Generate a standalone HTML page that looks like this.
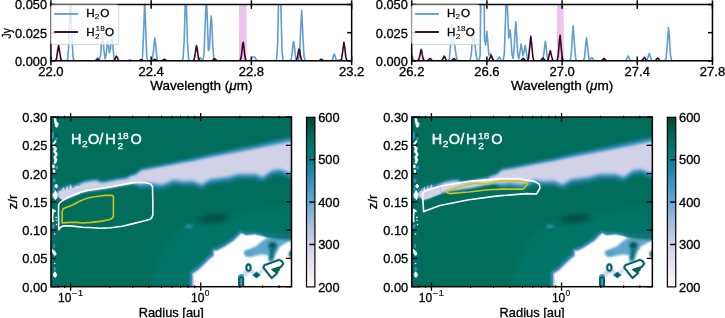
<!DOCTYPE html>
<html><head><meta charset="utf-8"><style>
html,body{margin:0;padding:0;background:#fff;width:725px;height:318px;overflow:hidden}
svg{display:block;will-change:transform}
text{font-family:"Liberation Sans", sans-serif;stroke-width:0.3px;paint-order:stroke}
text[fill="#000"],text:not([fill]){stroke:#000}
text[fill="#fff"]{stroke:#fff;stroke-width:0.4px}
text.sm[fill="#fff"]{stroke-width:0.25px}
text.sm{stroke-width:0.12px}
</style></head><body>
<svg width="725" height="318" viewBox="0 0 725 318">
<rect width="725" height="318" fill="#fff"/>
<clipPath id="clipA0"><rect x="50.9" y="4.5" width="300.75" height="56.3"/></clipPath>
<rect x="239.0" y="4.5" width="7.699999999999989" height="56.3" fill="rgb(238,196,238)"/>
<g clip-path="url(#clipA0)" fill="none" stroke-linejoin="round">
<path d="M48.90,60.80 L65.40,60.80 L66.50,60.76 L67.60,59.43 L68.70,46.54 L69.80,11.15 L70.50,-1.20 L72.00,38.45 L73.10,57.91 L74.20,60.68 L75.30,60.80 L94.00,60.80 L95.10,60.71 L96.20,59.99 L97.30,58.25 L97.90,57.80 L98.40,58.11 L99.50,59.40 L100.60,55.38 L101.70,40.37 L102.50,33.50 L103.90,49.56 L105.00,58.64 L106.10,55.49 L107.20,44.32 L107.80,41.38 L108.30,43.38 L109.40,52.87 L110.50,48.33 L111.80,35.49 L112.70,43.28 L113.80,56.68 L114.90,60.48 L116.00,60.79 L127.00,60.78 L128.10,60.61 L129.20,60.05 L130.00,59.80 L131.40,60.39 L132.50,60.74 L133.60,60.80 L140.20,60.80 L141.30,60.75 L142.40,58.51 L143.50,36.13 L144.70,0.80 L145.70,28.44 L146.80,56.86 L147.90,60.69 L149.00,60.80 L150.10,60.80 L151.20,60.74 L152.30,59.47 L153.40,51.47 L154.80,38.10 L155.60,43.82 L156.70,56.38 L157.80,60.42 L158.90,60.79 L180.90,60.80 L182.00,60.71 L183.10,58.38 L184.20,40.13 L185.30,1.87 L185.80,-5.20 L186.40,4.74 L187.50,43.00 L188.60,58.91 L189.70,60.73 L190.80,60.80 L196.30,60.80 L197.40,60.69 L198.50,59.83 L199.60,58.03 L200.10,57.70 L200.70,58.17 L201.80,59.96 L202.90,60.36 L204.00,54.80 L205.10,26.45 L206.30,-5.20 L207.30,18.82 L208.40,50.59 L209.50,48.09 L210.60,22.73 L211.20,16.00 L211.70,20.80 L212.80,46.77 L213.90,59.16 L215.00,60.74 L216.10,60.80 L248.00,60.80 L249.10,60.77 L250.20,60.33 L251.30,58.55 L252.30,56.98 L253.50,56.96 L254.60,56.98 L255.70,58.76 L256.80,60.41 L257.90,60.77 L259.00,60.80 L274.40,60.80 L275.50,60.76 L276.60,59.42 L277.70,43.20 L278.80,-14.00 L279.70,-47.20 L281.00,10.62 L282.10,52.88 L283.20,60.38 L284.30,60.79 L288.70,60.80 L289.80,60.77 L290.90,60.09 L292.00,54.76 L293.10,43.57 L293.60,41.50 L294.20,44.41 L295.30,55.60 L296.40,60.25 L297.50,60.76 L298.60,60.15 L299.70,52.59 L300.80,25.89 L301.70,10.40 L303.00,37.38 L304.10,57.10 L305.20,60.61 L306.30,60.80 L330.50,60.79 L331.60,60.56 L332.70,58.73 L333.80,54.91 L334.30,54.20 L334.90,55.19 L336.00,59.01 L337.10,60.50 L338.20,60.22 L339.30,59.80 L340.40,60.22 L341.50,60.69 L342.60,60.79 L353.60,60.80" stroke="rgb(95,158,210)" stroke-width="1.6"/>
<path d="M48.90,60.80 L54.40,60.79 L55.50,60.60 L56.60,58.31 L57.70,50.20 L58.60,45.50 L59.90,53.69 L61.00,59.68 L62.10,60.74 L63.20,60.80 L94.00,60.79 L95.10,60.69 L96.20,60.10 L97.50,59.30 L98.40,59.76 L99.50,60.56 L100.60,60.78 L112.70,60.79 L113.80,60.59 L114.90,59.14 L116.40,56.20 L117.10,57.12 L118.20,59.74 L119.30,60.70 L120.40,60.80 L138.00,60.78 L139.10,60.60 L140.20,59.97 L141.10,59.60 L142.40,60.24 L143.50,60.71 L144.60,60.80 L151.20,60.80 L152.30,60.71 L153.40,60.18 L154.80,59.30 L155.60,59.68 L156.70,60.51 L157.80,60.77 L158.90,60.80 L161.10,60.79 L162.20,60.60 L163.30,59.85 L164.30,59.30 L165.50,60.02 L166.60,60.66 L167.70,60.79 L191.90,60.80 L193.00,60.74 L194.10,59.68 L195.20,53.74 L196.50,45.60 L197.40,50.27 L198.50,58.32 L199.60,60.61 L200.70,60.79 L210.60,60.80 L211.70,60.75 L212.80,60.32 L213.90,59.12 L214.60,58.70 L216.10,60.04 L217.20,60.70 L218.30,60.80 L239.20,60.78 L240.30,60.27 L241.40,55.81 L242.50,45.09 L243.10,42.30 L243.60,44.28 L244.70,55.01 L245.80,60.12 L246.90,60.77 L248.00,60.80 L295.30,60.78 L296.40,60.37 L297.50,57.10 L298.60,50.26 L299.10,49.00 L299.70,50.78 L300.80,57.62 L301.90,60.46 L303.00,60.79 L317.30,60.80 L318.40,60.76 L319.50,60.40 L320.60,59.53 L321.20,59.30 L321.70,59.46 L322.80,60.33 L323.90,60.75 L325.00,60.80 L339.30,60.80 L340.40,60.73 L341.50,59.44 L342.60,52.16 L343.90,42.20 L344.80,47.92 L345.90,57.77 L347.00,60.56 L348.10,60.79 L353.60,60.80" stroke="rgb(58,4,44)" stroke-width="1.6"/>
</g>
<rect x="50.9" y="4.5" width="300.75" height="56.3" fill="none" stroke="#000" stroke-width="1.5"/>
<line x1="50.9" y1="0.2999999999999998" x2="50.9" y2="8.8" stroke="#000" stroke-width="1.5"/>
<line x1="50.9" y1="56.599999999999994" x2="50.9" y2="65.2" stroke="#000" stroke-width="1.5"/>
<line x1="151.15" y1="0.2999999999999998" x2="151.15" y2="8.8" stroke="#000" stroke-width="1.5"/>
<line x1="151.15" y1="56.599999999999994" x2="151.15" y2="65.2" stroke="#000" stroke-width="1.5"/>
<line x1="251.4" y1="0.2999999999999998" x2="251.4" y2="8.8" stroke="#000" stroke-width="1.5"/>
<line x1="251.4" y1="56.599999999999994" x2="251.4" y2="65.2" stroke="#000" stroke-width="1.5"/>
<line x1="351.65000000000003" y1="0.2999999999999998" x2="351.65000000000003" y2="8.8" stroke="#000" stroke-width="1.5"/>
<line x1="351.65000000000003" y1="56.599999999999994" x2="351.65000000000003" y2="65.2" stroke="#000" stroke-width="1.5"/>
<line x1="50.9" y1="4.5" x2="55.4" y2="4.5" stroke="#000" stroke-width="1.5"/>
<line x1="347.15" y1="4.5" x2="351.65" y2="4.5" stroke="#000" stroke-width="1.5"/>
<line x1="50.9" y1="32.65" x2="55.4" y2="32.65" stroke="#000" stroke-width="1.5"/>
<line x1="347.15" y1="32.65" x2="351.65" y2="32.65" stroke="#000" stroke-width="1.5"/>
<line x1="50.9" y1="60.8" x2="55.4" y2="60.8" stroke="#000" stroke-width="1.5"/>
<line x1="347.15" y1="60.8" x2="351.65" y2="60.8" stroke="#000" stroke-width="1.5"/>
<rect x="50.9" y="4.9" width="67.9" height="39.5" rx="2" fill="rgba(255,255,255,0.8)" stroke="rgba(204,204,204,0.8)" stroke-width="1"/>
<line x1="54.3" y1="13.9" x2="78.1" y2="13.9" stroke="rgb(95,158,210)" stroke-width="1.9"/>
<line x1="54.3" y1="32" x2="78.1" y2="32" stroke="rgb(58,4,44)" stroke-width="1.9"/>
<text transform="translate(86.24,16.75) scale(1.07,1)" font-size="10.9" fill="#000">H</text>
<text class="sm" transform="translate(94.69,18.75) scale(1.05,1)" font-size="7.8" fill="#000">2</text>
<text transform="translate(100.25,16.75) scale(1.07,1)" font-size="10.9" fill="#000">O</text>
<text transform="translate(86.24,35.55) scale(1.07,1)" font-size="10.9" fill="#000">H</text>
<text class="sm" transform="translate(95.59,31.20) scale(1.05,1)" font-size="7.8" fill="#000">18</text>
<text class="sm" transform="translate(94.89,38.60) scale(1.05,1)" font-size="7.8" fill="#000">2</text>
<text transform="translate(104.95,35.55) scale(1.07,1)" font-size="10.9" fill="#000">O</text>
<text x="47.0" y="9.4" font-size="11.9" fill="#000" text-anchor="end" textLength="32.0" lengthAdjust="spacingAndGlyphs">0.050</text>
<text x="47.0" y="37.55" font-size="11.9" fill="#000" text-anchor="end" textLength="32.0" lengthAdjust="spacingAndGlyphs">0.025</text>
<text x="47.0" y="65.7" font-size="11.9" fill="#000" text-anchor="end" textLength="32.0" lengthAdjust="spacingAndGlyphs">0.000</text>
<text x="50.9" y="75.9" font-size="11.9" fill="#000" text-anchor="middle" textLength="25.4" lengthAdjust="spacingAndGlyphs">22.0</text>
<text x="151.15" y="75.9" font-size="11.9" fill="#000" text-anchor="middle" textLength="25.4" lengthAdjust="spacingAndGlyphs">22.4</text>
<text x="251.4" y="75.9" font-size="11.9" fill="#000" text-anchor="middle" textLength="25.4" lengthAdjust="spacingAndGlyphs">22.8</text>
<text x="351.65000000000003" y="75.9" font-size="11.9" fill="#000" text-anchor="middle" textLength="25.4" lengthAdjust="spacingAndGlyphs">23.2</text>
<text x="201.3" y="90.2" font-size="11.9" fill="#000" text-anchor="middle" textLength="102.2" lengthAdjust="spacingAndGlyphs">Wavelength (<tspan font-style="italic">μ</tspan>m)</text>
<clipPath id="clipA1"><rect x="411.7" y="4.5" width="300.75000000000006" height="56.3"/></clipPath>
<rect x="557.0" y="4.5" width="6.7000000000000455" height="56.3" fill="rgb(238,196,238)"/>
<g clip-path="url(#clipA1)" fill="none" stroke-linejoin="round">
<path d="M409.70,59.19 L410.80,55.19 L411.50,53.80 L413.00,58.28 L414.10,60.47 L415.20,60.79 L447.10,60.80 L448.20,60.73 L449.30,59.11 L450.40,47.71 L451.90,23.95 L452.60,29.29 L453.70,42.06 L454.60,44.47 L455.90,53.80 L457.00,59.70 L458.10,60.74 L459.20,60.80 L468.00,60.80 L469.10,60.78 L470.20,60.10 L471.30,54.12 L472.40,39.03 L473.00,33.44 L473.50,33.26 L474.80,43.14 L475.70,51.59 L476.80,58.81 L477.90,60.65 L479.00,60.73 L480.10,55.23 L481.20,-32.35 L482.50,-239.21 L483.40,-110.62 L484.50,39.29 L485.60,45.06 L486.80,31.29 L487.80,41.86 L488.90,54.92 L490.00,54.57 L490.60,53.76 L491.10,54.54 L492.20,58.61 L493.30,60.54 L494.40,60.79 L495.50,60.79 L496.60,60.62 L497.70,59.43 L499.20,57.00 L499.90,57.76 L501.00,59.93 L502.10,60.71 L503.20,60.40 L504.30,53.99 L505.40,21.76 L506.60,-14.32 L507.60,11.35 L508.70,38.11 L510.10,30.01 L510.90,37.97 L512.00,54.79 L513.10,58.47 L514.20,46.73 L515.70,21.80 L516.40,29.57 L517.50,51.78 L518.60,58.95 L519.70,53.87 L521.10,43.99 L521.90,48.12 L523.00,55.82 L524.10,51.62 L525.20,45.39 L526.30,51.90 L527.40,59.09 L528.50,60.69 L529.60,60.80 L540.60,60.80 L541.70,60.75 L542.80,59.66 L543.90,52.82 L545.30,41.40 L546.10,46.29 L547.20,57.03 L548.30,60.47 L549.40,60.79 L568.10,60.80 L569.20,60.78 L570.30,60.03 L571.40,52.75 L572.50,32.77 L573.20,25.80 L574.70,48.18 L575.80,59.17 L576.90,60.73 L578.00,60.80 L582.40,60.79 L583.50,60.51 L584.60,57.05 L585.70,44.87 L586.60,37.80 L587.90,50.11 L589.00,59.04 L590.10,59.95 L591.20,58.16 L591.90,57.50 L593.40,59.61 L594.50,60.65 L595.60,60.79 L624.20,60.80 L625.30,60.70 L626.40,59.72 L627.50,57.04 L628.20,56.10 L629.70,59.11 L630.80,60.58 L631.90,60.79 L645.10,60.80 L646.20,60.71 L647.30,59.61 L648.40,55.74 L649.30,53.50 L650.60,57.41 L651.70,60.26 L652.80,60.77 L653.90,60.80 L663.80,60.80 L664.90,60.71 L666.00,58.85 L667.10,47.15 L668.50,27.60 L669.30,35.96 L670.40,54.34 L671.50,60.24 L672.60,60.78 L714.40,60.80" stroke="rgb(95,158,210)" stroke-width="1.6"/>
<path d="M409.70,60.80 L416.30,60.80 L417.40,60.78 L418.50,60.27 L419.60,56.69 L421.10,49.40 L421.80,51.67 L422.90,58.18 L424.00,60.55 L425.10,60.79 L426.20,60.80 L427.30,60.73 L428.40,60.18 L429.50,58.85 L430.10,58.50 L430.60,58.75 L431.70,60.08 L432.80,60.72 L433.90,60.80 L440.50,60.79 L441.60,60.59 L442.70,59.14 L444.20,56.20 L444.90,57.12 L446.00,59.74 L447.10,60.70 L448.20,60.80 L450.40,60.79 L451.50,60.63 L452.60,59.73 L453.90,58.50 L454.80,59.21 L455.90,60.43 L457.00,60.77 L458.10,60.80 L486.70,60.80 L487.80,60.76 L488.90,60.20 L490.00,57.68 L491.10,55.40 L492.20,57.68 L493.30,60.20 L494.40,60.76 L495.50,60.80 L519.70,60.79 L520.80,60.62 L521.90,59.68 L523.20,58.40 L524.10,59.14 L525.20,60.41 L526.30,60.77 L527.40,60.67 L528.50,58.58 L529.60,48.05 L530.80,36.30 L531.80,45.23 L532.90,57.48 L534.00,60.56 L535.10,60.79 L539.50,60.79 L540.60,60.55 L541.70,59.34 L542.90,58.00 L543.90,59.02 L545.00,60.42 L546.10,60.77 L547.20,60.67 L548.30,59.17 L549.40,53.87 L550.30,50.80 L551.60,56.15 L552.70,60.07 L553.80,60.76 L554.90,60.80 L556.00,60.79 L557.10,60.37 L558.20,55.84 L559.30,41.72 L560.10,35.30 L561.50,50.32 L562.60,59.30 L563.70,60.73 L564.80,60.80 L600.00,60.80 L601.10,60.75 L602.20,60.25 L603.30,58.88 L604.00,58.40 L605.50,59.93 L606.60,60.69 L607.70,60.80 L640.70,60.79 L641.80,60.60 L642.90,59.40 L644.30,57.40 L645.10,58.26 L646.20,60.14 L647.30,60.74 L648.40,60.80 L653.90,60.79 L655.00,60.67 L656.10,59.79 L657.60,58.00 L658.30,58.56 L659.40,60.16 L660.50,60.74 L661.60,60.80 L714.40,60.80" stroke="rgb(58,4,44)" stroke-width="1.6"/>
</g>
<rect x="411.7" y="4.5" width="300.75000000000006" height="56.3" fill="none" stroke="#000" stroke-width="1.5"/>
<line x1="411.7" y1="0.2999999999999998" x2="411.7" y2="8.8" stroke="#000" stroke-width="1.5"/>
<line x1="411.7" y1="56.599999999999994" x2="411.7" y2="65.2" stroke="#000" stroke-width="1.5"/>
<line x1="486.8875" y1="0.2999999999999998" x2="486.8875" y2="8.8" stroke="#000" stroke-width="1.5"/>
<line x1="486.8875" y1="56.599999999999994" x2="486.8875" y2="65.2" stroke="#000" stroke-width="1.5"/>
<line x1="562.075" y1="0.2999999999999998" x2="562.075" y2="8.8" stroke="#000" stroke-width="1.5"/>
<line x1="562.075" y1="56.599999999999994" x2="562.075" y2="65.2" stroke="#000" stroke-width="1.5"/>
<line x1="637.2625" y1="0.2999999999999998" x2="637.2625" y2="8.8" stroke="#000" stroke-width="1.5"/>
<line x1="637.2625" y1="56.599999999999994" x2="637.2625" y2="65.2" stroke="#000" stroke-width="1.5"/>
<line x1="712.45" y1="0.2999999999999998" x2="712.45" y2="8.8" stroke="#000" stroke-width="1.5"/>
<line x1="712.45" y1="56.599999999999994" x2="712.45" y2="65.2" stroke="#000" stroke-width="1.5"/>
<line x1="411.7" y1="4.5" x2="416.2" y2="4.5" stroke="#000" stroke-width="1.5"/>
<line x1="707.95" y1="4.5" x2="712.45" y2="4.5" stroke="#000" stroke-width="1.5"/>
<line x1="411.7" y1="32.65" x2="416.2" y2="32.65" stroke="#000" stroke-width="1.5"/>
<line x1="707.95" y1="32.65" x2="712.45" y2="32.65" stroke="#000" stroke-width="1.5"/>
<line x1="411.7" y1="60.8" x2="416.2" y2="60.8" stroke="#000" stroke-width="1.5"/>
<line x1="707.95" y1="60.8" x2="712.45" y2="60.8" stroke="#000" stroke-width="1.5"/>
<rect x="411.7" y="4.9" width="67.90000000000003" height="39.5" rx="2" fill="rgba(255,255,255,0.8)" stroke="rgba(204,204,204,0.8)" stroke-width="1"/>
<line x1="415.09999999999997" y1="13.9" x2="438.9" y2="13.9" stroke="rgb(95,158,210)" stroke-width="1.9"/>
<line x1="415.09999999999997" y1="32" x2="438.9" y2="32" stroke="rgb(58,4,44)" stroke-width="1.9"/>
<text transform="translate(447.04,16.75) scale(1.07,1)" font-size="10.9" fill="#000">H</text>
<text class="sm" transform="translate(455.49,18.75) scale(1.05,1)" font-size="7.8" fill="#000">2</text>
<text transform="translate(461.05,16.75) scale(1.07,1)" font-size="10.9" fill="#000">O</text>
<text transform="translate(447.04,35.55) scale(1.07,1)" font-size="10.9" fill="#000">H</text>
<text class="sm" transform="translate(456.39,31.20) scale(1.05,1)" font-size="7.8" fill="#000">18</text>
<text class="sm" transform="translate(455.69,38.60) scale(1.05,1)" font-size="7.8" fill="#000">2</text>
<text transform="translate(465.75,35.55) scale(1.07,1)" font-size="10.9" fill="#000">O</text>
<text x="407.8" y="9.4" font-size="11.9" fill="#000" text-anchor="end" textLength="32.0" lengthAdjust="spacingAndGlyphs">0.050</text>
<text x="407.8" y="37.55" font-size="11.9" fill="#000" text-anchor="end" textLength="32.0" lengthAdjust="spacingAndGlyphs">0.025</text>
<text x="407.8" y="65.7" font-size="11.9" fill="#000" text-anchor="end" textLength="32.0" lengthAdjust="spacingAndGlyphs">0.000</text>
<text x="411.7" y="75.9" font-size="11.9" fill="#000" text-anchor="middle" textLength="25.4" lengthAdjust="spacingAndGlyphs">26.2</text>
<text x="486.8875" y="75.9" font-size="11.9" fill="#000" text-anchor="middle" textLength="25.4" lengthAdjust="spacingAndGlyphs">26.6</text>
<text x="562.075" y="75.9" font-size="11.9" fill="#000" text-anchor="middle" textLength="25.4" lengthAdjust="spacingAndGlyphs">27.0</text>
<text x="637.2625" y="75.9" font-size="11.9" fill="#000" text-anchor="middle" textLength="25.4" lengthAdjust="spacingAndGlyphs">27.4</text>
<text x="712.45" y="75.9" font-size="11.9" fill="#000" text-anchor="middle" textLength="25.4" lengthAdjust="spacingAndGlyphs">27.8</text>
<text x="562.1" y="90.2" font-size="11.9" fill="#000" text-anchor="middle" textLength="102.2" lengthAdjust="spacingAndGlyphs">Wavelength (<tspan font-style="italic">μ</tspan>m)</text>
<defs>
<filter id="blur1" x="-20%" y="-20%" width="140%" height="140%"><feGaussianBlur stdDeviation="1.2"/></filter>
<filter id="blur07" x="-20%" y="-20%" width="140%" height="140%"><feGaussianBlur stdDeviation="0.6"/></filter>
<filter id="blur15" x="-20%" y="-20%" width="140%" height="140%"><feGaussianBlur stdDeviation="1.5"/></filter>
<filter id="blur05" x="-20%" y="-20%" width="140%" height="140%"><feGaussianBlur stdDeviation="0.45"/></filter>
<filter id="blur2" x="-50%" y="-50%" width="200%" height="200%"><feGaussianBlur stdDeviation="2"/></filter>
<filter id="blur25" x="-50%" y="-50%" width="200%" height="200%"><feGaussianBlur stdDeviation="2.5"/></filter>
<filter id="blur3" x="-50%" y="-50%" width="200%" height="200%"><feGaussianBlur stdDeviation="3"/></filter>
<linearGradient id="cbar" x1="0" y1="1" x2="0" y2="0"><stop offset="0.0000" stop-color="#fff7fb"/><stop offset="0.1250" stop-color="#ece2f0"/><stop offset="0.2500" stop-color="#d0d1e6"/><stop offset="0.3750" stop-color="#a6bddb"/><stop offset="0.5000" stop-color="#67a9cf"/><stop offset="0.6250" stop-color="#3690c0"/><stop offset="0.7500" stop-color="#02818a"/><stop offset="0.8750" stop-color="#016c59"/><stop offset="1.0000" stop-color="#014636"/></linearGradient>
<clipPath id="mapclip"><rect x="50.97" y="117.05" width="240.53" height="169.64999999999998"/></clipPath>
<g id="mapc" clip-path="url(#mapclip)"><rect x="50.97" y="117.05" width="240.53" height="169.64999999999998" fill="rgb(1,110,92)"/>
<path d="M150,288 L153,275 L158,260 L166,244 L175,233 L186,226 L200,221 L220,216 L245,212 L270,208 L293,205 L293,288 Z" fill="rgb(3,117,104)" filter="url(#blur3)"/>
<ellipse cx="214.5" cy="218.8" rx="16" ry="4.2" transform="rotate(-7 214.5 218.8)" fill="rgb(0,72,58)" opacity="0.85" filter="url(#blur25)"/>
<path d="M184,226.5 L189,224 L194,226.5 L189,228.5 Z" fill="rgb(50,140,175)" filter="url(#blur1)"/>
<path d="M50,192.2 L57,190.7 L60.4,188.29999999999998 L63.7,186.5 L65.5,188.2 L67,184.79999999999998 L68.8,187.2 L70.3,183.2 L72.6,186.1 L75.9,183.89999999999998 L84.7,180.39999999999998 L94.6,178.79999999999998 L98,179.29999999999998 L100.2,181.0 L105.7,180.39999999999998 L116.7,178.2 L127.7,176.6 L130,174.79999999999998 L136.3,172.7 L141.3,168.09144736842106 L155.2,165.5 L174,161.57631578947368 L192.9,157.75197368421053 L210,153.83947368421053 L247.7,145.99144736842103 L293,136.2 L293,179.8 L287.3,177.9 L279.7,175.1 L272.2,176.0 L262.8,182.6 L255.2,179.8 L238.3,179.8 L228.8,182.6 L210,185.0 L201.7,190.0 L192.9,186.5 L182.8,187.0 L174,185.5 L161.4,190.3 L148.9,188.5 L141,189.5 L133.3,183.4 L122.2,185.4 L111.2,187.6 L100.2,189.3 L86.9,191.2 L78.1,193.7 L69.2,197.4 L62.6,199.5 L59.4,196.5 L50,197.5 Z" fill="rgb(18,120,132)" filter="url(#blur15)"/>
<path d="M50,193.2 L57,191.7 L60.4,189.29999999999998 L63.7,187.5 L65.5,189.2 L67,185.79999999999998 L68.8,188.2 L70.3,184.2 L72.6,187.1 L75.9,184.89999999999998 L84.7,181.39999999999998 L94.6,179.79999999999998 L98,180.29999999999998 L100.2,182.0 L105.7,181.39999999999998 L116.7,179.2 L127.7,177.6 L130,175.79999999999998 L136.3,173.7 L141.3,169.2965789473684 L155.2,166.76 L174,162.9105263157895 L192.9,159.16078947368422 L210,155.31578947368422 L247.7,147.6165789473684 L293,138.0 L293,176.8 L287.3,174.9 L279.7,172.1 L272.2,173.0 L262.8,179.6 L255.2,176.8 L238.3,176.8 L228.8,179.6 L210,182.0 L201.7,187.0 L192.9,183.5 L182.8,184.0 L174,182.5 L161.4,187.3 L148.9,185.5 L141,186.5 L133.3,183.20000000000002 L122.2,185.20000000000002 L111.2,187.4 L100.2,189.10000000000002 L86.9,191.0 L78.1,193.5 L69.2,197.20000000000002 L62.6,199.3 L59.4,196.3 L50,197.3 Z" fill="rgb(52,142,192)" filter="url(#blur15)"/>
<path d="M50,194.4 L57,192.9 L60.4,190.5 L63.7,188.70000000000002 L65.5,190.4 L67,187.0 L68.8,189.4 L70.3,185.4 L72.6,188.3 L75.9,186.1 L84.7,182.6 L94.6,181.0 L98,181.5 L100.2,183.20000000000002 L105.7,182.6 L116.7,180.4 L127.7,178.8 L130,177.0 L136.3,174.9 L141.3,170.70855263157895 L155.2,168.29999999999998 L174,164.62368421052633 L192.9,161.04802631578946 L210,157.36052631578949 L247.7,150.00855263157894 L293,140.79999999999998 L293,174.5 L287.3,172.6 L279.7,169.79999999999998 L272.2,170.7 L262.8,177.29999999999998 L255.2,174.5 L238.3,174.5 L228.8,177.29999999999998 L210,179.7 L201.7,184.7 L192.9,181.2 L182.8,181.7 L174,180.2 L161.4,185.0 L148.9,183.2 L141,184.2 L133.3,183.0 L122.2,185.0 L111.2,187.2 L100.2,188.9 L86.9,190.79999999999998 L78.1,193.29999999999998 L69.2,197.0 L62.6,199.1 L59.4,196.1 L50,197.1 Z" fill="rgb(165,192,226)" filter="url(#blur15)"/>
<path d="M50,195.0 L57,193.5 L60.4,191.1 L63.7,189.3 L65.5,191.0 L67,187.6 L68.8,190.0 L70.3,186.0 L72.6,188.9 L75.9,186.7 L84.7,183.2 L94.6,181.6 L98,182.1 L100.2,183.8 L105.7,183.2 L116.7,181.0 L127.7,179.4 L130,177.6 L136.3,175.5 L141.3,171.3153947368421 L155.2,168.98 L174,165.4026315789474 L192.9,161.92644736842104 L210,158.32894736842107 L247.7,151.1753947368421 L293,142.2 L293,172.3 L287.3,170.4 L279.7,167.6 L272.2,168.5 L262.8,175.1 L255.2,172.3 L238.3,172.3 L228.8,175.1 L210,177.5 L201.7,182.5 L192.9,179.0 L182.8,179.5 L174,178.0 L161.4,182.8 L148.9,181.0 L141,182.0 L133.3,182.70000000000002 L122.2,184.70000000000002 L111.2,186.9 L100.2,188.60000000000002 L86.9,190.5 L78.1,193.0 L69.2,196.70000000000002 L62.6,198.8 L59.4,195.8 L50,196.8 Z" fill="rgb(209,210,230)" filter="url(#blur1)"/>
<path d="M57,192.3 L59.4,189.9 L61.5,189.5 L63.7,185.9 L65.3,189.5 L67,184.70000000000002 L68.6,188.70000000000002 L70.3,183.5 L72.4,187.10000000000002 L75.9,184.9 L80,184.3 L80,192.8 L78,193.3 L69,196.9 L62.6,198.8 L59,196.3 Z" fill="rgb(60,146,194)" filter="url(#blur05)"/>
<path d="M57,193.4 L59.4,191.0 L61.5,190.6 L63.7,187.0 L65.3,190.6 L67,185.8 L68.6,189.8 L70.3,184.6 L72.4,188.20000000000002 L75.9,186.0 L80,185.4 L80,193.9 L78,194.4 L69,198.0 L62.6,199.9 L59,197.4 Z" fill="rgb(209,210,230)" filter="url(#blur05)"/>
<path d="M191,288 L191,272.5 L197.3,268.4 L203.9,261.8 L207.6,258 L212.3,254.2 L212.3,249.4 L216,249 L222.6,245.8 L232.5,239.5 L238,234 L241,231.6 L246,234 L255,233.3 L263,235 L270,236.5 L280,237.3 L293,238 L293,288 Z" fill="rgb(62,146,196)" stroke="rgb(62,146,196)" stroke-width="1.6" stroke-linejoin="round" filter="url(#blur1)"/>
<path d="M192.4,288 L192.4,273.5 L198.3,269.6 L205,263 L208.7,259.2 L213.4,255.4 L213.5,250.6 L216.8,250.2 L223.3,247 L233.4,240.6 L238.8,235.1 L241.2,232.9 L246,235 L255,234.3 L263,236 L270,237.5 L280,238.3 L293,239 L293,288 Z" fill="rgb(200,205,232)" filter="url(#blur07)"/>
<path d="M194,288 L194,274.5 L199.3,270.8 L206,264.3 L209.8,260.5 L214.6,256.6 L214.7,251.8 L217.6,251.4 L224,248.2 L234.3,241.7 L239.6,236.2 L241.4,234.2 L246,236 L255,235.3 L263,237 L270,238.5 L280,239.3 L293,240 L293,288 Z" fill="#fff" filter="url(#blur07)"/>
<path d="M244,251 L252,248 L256.5,246 L261,242 L266,238.5 L271,236.5 L280,236 L293,236.5 L293,240.5 L287,242.5 L280,246.5 L277,252 L275,256 L273,262 L268.5,262 L268,255 L262,254.5 L256,255.5 L250,257 L245,256 Z" fill="rgb(95,165,207)" filter="url(#blur1)"/>
<path d="M262,233.5 L275,233 L293,233 L293,239.5 L284,239.5 L274,238.5 L266,237 Z" fill="rgb(12,116,115)" filter="url(#blur1)"/>
<ellipse cx="272.5" cy="245.5" rx="4.2" ry="3.6" fill="rgb(0,88,75)" filter="url(#blur15)"/>
<path d="M270,248 L275,248 L272.5,260 L269.5,260 Z" fill="rgb(10,110,110)" filter="url(#blur1)"/>
<path d="M277.5,252 L282,247 L288,243.5 L293,241 L293,249 L289,252 L284,257.5 L279.5,258 Z" fill="#fff" filter="url(#blur07)"/>
<ellipse cx="291.8" cy="254" rx="3" ry="3.6" fill="rgb(5,105,95)" filter="url(#blur1)"/>
<path d="M244,253 L249,250.5 L254,253 L249,256 Z" fill="rgb(80,160,205)" filter="url(#blur1)"/>
<path d="M240,276 L247,268 L252,268 L256,274 L262,268 L264,270 L257,278 L250,272 L243,279 Z" fill="rgb(205,210,232)" filter="url(#blur1)"/>
<path d="M239.3,288 L239.3,279 Q241.2,273.5 243.2,279 L243.2,288" fill="none" stroke="rgb(70,150,200)" stroke-width="4.5" filter="url(#blur07)"/>
<path d="M239.3,288 L239.3,279 Q241.2,275 243.2,279 L243.2,288" fill="none" stroke="rgb(0,95,82)" stroke-width="2"/>
<ellipse cx="248.5" cy="267.6" rx="2.4" ry="3.5" fill="none" stroke="rgb(90,160,205)" stroke-width="2.6" filter="url(#blur07)"/>
<ellipse cx="248.5" cy="267.6" rx="1.9" ry="3.0" fill="#fff" stroke="rgb(0,95,82)" stroke-width="1.6"/>
<path d="M252.5,275 L256.5,272 L260.5,275 L256.5,278 Z" fill="rgb(0,95,82)" stroke="rgb(70,150,200)" stroke-width="1" filter="url(#blur05)"/>
<path d="M263.5,267.6 L264.7,265.2 L273.7,262.1 L279.2,260.1 L281.6,261.3 L283.1,263.6 L280.8,266.8 L272.1,269.5 L277,273 L271.7,277.8 Z" fill="none" stroke="rgb(110,170,212)" stroke-width="3.2" stroke-linejoin="round" filter="url(#blur07)"/>
<path d="M263.5,267.6 L264.7,265.2 L273.7,262.1 L279.2,260.1 L281.6,261.3 L283.1,263.6 L280.8,266.8 L272.1,269.5 L277,273 L271.7,277.8 Z" fill="#fff" stroke="rgb(0,85,70)" stroke-width="1.6" stroke-linejoin="round"/>
<path d="M272.1,269.5 L280.8,266.8 L279.5,270.5 L277,273 Z" fill="rgb(0,100,82)"/>
<rect x="51" y="117" width="7" height="170" fill="rgb(10,112,110)" opacity="0.45" filter="url(#blur1)"/>
<ellipse cx="52.8" cy="135.5" rx="1.2" ry="3.5" fill="rgb(55,145,195)" filter="url(#blur05)"/>
<ellipse cx="56.5" cy="138.7" rx="1.2" ry="1.2" fill="rgb(55,145,195)" filter="url(#blur05)"/>
<ellipse cx="56.8" cy="167.6" rx="1.4" ry="2.0" fill="rgb(55,145,195)" filter="url(#blur05)"/>
<ellipse cx="54.2" cy="180.4" rx="1.4" ry="2.0" fill="rgb(55,145,195)" filter="url(#blur05)"/>
<ellipse cx="53.8" cy="189" rx="1" ry="2" fill="rgb(55,145,195)" filter="url(#blur05)"/>
<ellipse cx="53.5" cy="225.4" rx="1.2" ry="1.5" fill="rgb(55,145,195)" filter="url(#blur05)"/>
<ellipse cx="52.8" cy="227" rx="1.2" ry="1.5" fill="rgb(55,145,195)" filter="url(#blur05)"/>
<ellipse cx="54.2" cy="245.9" rx="1.0" ry="2.0" fill="rgb(55,145,195)" filter="url(#blur05)"/>
<ellipse cx="54.9" cy="258" rx="0.9" ry="0.8" fill="rgb(55,145,195)" filter="url(#blur05)"/>
<ellipse cx="54.9" cy="269.1" rx="1.2" ry="2.0" fill="rgb(55,145,195)" filter="url(#blur05)"/>
<ellipse cx="56" cy="135" rx="1.5" ry="2.2" fill="rgb(0,85,70)" filter="url(#blur05)"/>
<path d="M54.2,118.6 L55.8,118.8 L56.2,121.5 L58.2,123.5 L57.6,126.6 L56,127.2 L55.2,124.5 L54.6,121.5 Z" fill="#fff" stroke="#fff" stroke-width="0.9" stroke-linejoin="round"/>
<path d="M55.4,140.2 L56.2,141.2 L53.8,144.8 L52.6,144.2 Z" fill="#fff" stroke="#fff" stroke-width="0.9" stroke-linejoin="round"/>
<path d="M52.4,145.4 L54,145.2 L56.6,148.4 L55.6,151.2 L57.4,154.2 L55.8,157.2 L57,160 L55.6,163.4 L54,163 L55,160.2 L53.8,157.2 L55.6,154.4 L53.6,151.6 L54.4,148.8 Z" fill="#fff" stroke="#fff" stroke-width="0.9" stroke-linejoin="round"/>
<path d="M52.6,165 L54.2,165 L54.4,167.6 L52.8,167.6 Z" fill="#fff" stroke="#fff" stroke-width="0.9" stroke-linejoin="round"/>
<path d="M53.4,170 L54.8,170 L54.8,172.4 L53.4,172.4 Z" fill="#fff" stroke="#fff" stroke-width="0.9" stroke-linejoin="round"/>
<path d="M56.2,184 L58,186 L56.4,188.2 L54.6,186.2 Z" fill="#fff" stroke="#fff" stroke-width="0.9" stroke-linejoin="round"/>
<path d="M55.3,190.6 L57.2,194.5 L56.8,197.5 L55.6,199.6 L54.2,198.2 L53.4,195 Z" fill="#fff" stroke="#fff" stroke-width="0.9" stroke-linejoin="round"/>
<path d="M52.6,209 L55.8,211 L55,211.8 L53.6,211 L53.2,214.6 L52.9,218.8 L53.4,221.8 L52.4,222 L51.9,218.6 L52.2,213.8 Z" fill="#fff" stroke="#fff" stroke-width="0.9" stroke-linejoin="round"/>
<path d="M52.4,249.4 L55,251.5 L56.2,254.4 L54.6,255.6 L52.8,252.8 Z" fill="#fff" stroke="#fff" stroke-width="0.9" stroke-linejoin="round"/>
<path d="M54.8,271.8 L56.7,274.4 L55.8,277 L54.2,277 L53.4,274.4 Z" fill="#fff" stroke="#fff" stroke-width="0.9" stroke-linejoin="round"/>
<circle cx="56.1" cy="217.4" r="0.8" fill="#fff"/>
<circle cx="56.1" cy="220.2" r="0.7" fill="#fff"/>
<circle cx="56.6" cy="224.5" r="0.8" fill="#fff"/>
<circle cx="54.7" cy="234" r="0.8" fill="#fff"/>
<circle cx="54.7" cy="263.5" r="0.8" fill="#fff"/></g>
</defs>
<use href="#mapc"/>
<use href="#mapc" transform="translate(360.85,0)"/>
<path d="M58.80,229.70 L58.50,215.00 L58.60,205.00 L60.20,202.40 L62.60,200.60 L69.20,196.80 L78.10,192.90 L86.90,190.40 L100.20,188.50 L111.20,186.80 L122.20,184.60 L133.30,182.60 L140.00,182.20 L146.00,182.80 L150.50,184.00 L152.50,186.50 L152.80,200.00 L152.80,215.20 L151.60,217.80 L149.60,219.50 L141.80,221.50 L133.30,223.60 L122.20,226.30 L111.20,227.70 L100.20,228.30 L89.10,227.50 L82.50,227.20 L72.60,226.10 L67.00,225.80 L62.60,226.10 L60.40,227.50 Z" fill="none" stroke="#fff" stroke-width="1.6" stroke-linejoin="round"/>
<path d="M62.10,223.00 L62.10,212.00 L63.30,208.60 L68.00,206.80 L72.60,205.00 L78.00,202.00 L83.60,199.50 L89.00,197.80 L94.60,196.80 L100.00,196.00 L105.70,195.40 L112.30,195.40 L113.40,196.60 L113.40,216.50 L111.50,218.80 L109.00,219.80 L100.20,221.40 L91.00,222.40 L82.50,223.00 L77.00,222.40 L72.60,222.20 L66.00,222.60 Z" fill="none" stroke="rgb(204,196,26)" stroke-width="1.6" stroke-linejoin="round"/>
<path d="M423.60,211.70 L422.60,194.00 L424.50,191.10 L440.00,186.20 L468.90,181.40 L497.90,178.90 L517.20,178.50 L534.60,181.40 L539.40,184.30 L540.00,188.20 L536.50,194.00 L526.90,193.60 L497.90,195.90 L468.90,199.80 L440.00,205.50 L426.40,210.40 Z" fill="none" stroke="#fff" stroke-width="1.6" stroke-linejoin="round"/>
<path d="M446.70,191.10 L457.30,187.20 L474.70,183.30 L486.30,183.90 L501.80,180.80 L523.00,181.40 L527.80,184.30 L523.00,189.10 L501.80,189.10 L488.20,189.70 L468.90,192.00 L449.60,193.60 L446.50,192.50 Z" fill="none" stroke="rgb(204,196,26)" stroke-width="1.6" stroke-linejoin="round"/>
<text transform="translate(71.00,144.10) scale(1.05,1)" font-size="13.8" fill="#fff">H</text>
<text class="sm" transform="translate(81.89,147.40) scale(1.08,1)" font-size="9.4" fill="#fff">2</text>
<text transform="translate(88.01,144.10) scale(1.05,1)" font-size="13.8" fill="#fff">O</text>
<text transform="translate(99.30,144.10) scale(1.05,1)" font-size="13.8" fill="#fff">/</text>
<text transform="translate(105.20,144.10) scale(1.05,1)" font-size="13.8" fill="#fff">H</text>
<text class="sm" transform="translate(117.24,139.10) scale(1.08,1)" font-size="9.4" fill="#fff">18</text>
<text class="sm" transform="translate(117.49,149.00) scale(1.08,1)" font-size="9.4" fill="#fff">2</text>
<text transform="translate(130.51,144.10) scale(1.05,1)" font-size="13.8" fill="#fff">O</text>
<text transform="translate(431.85,144.10) scale(1.05,1)" font-size="13.8" fill="#fff">H</text>
<text class="sm" transform="translate(442.74,147.40) scale(1.08,1)" font-size="9.4" fill="#fff">2</text>
<text transform="translate(448.86,144.10) scale(1.05,1)" font-size="13.8" fill="#fff">O</text>
<text transform="translate(460.15,144.10) scale(1.05,1)" font-size="13.8" fill="#fff">/</text>
<text transform="translate(466.05,144.10) scale(1.05,1)" font-size="13.8" fill="#fff">H</text>
<text class="sm" transform="translate(478.09,139.10) scale(1.08,1)" font-size="9.4" fill="#fff">18</text>
<text class="sm" transform="translate(478.34,149.00) scale(1.08,1)" font-size="9.4" fill="#fff">2</text>
<text transform="translate(491.36,144.10) scale(1.05,1)" font-size="13.8" fill="#fff">O</text>
<rect x="50.97" y="117.05" width="240.53" height="169.64999999999998" fill="none" stroke="#000" stroke-width="1.5"/>
<line x1="70.6" y1="113.05" x2="70.6" y2="121.35" stroke="#000" stroke-width="1.3"/>
<line x1="70.6" y1="282.5" x2="70.6" y2="290.8" stroke="#000" stroke-width="1.3"/>
<line x1="200.7" y1="113.05" x2="200.7" y2="121.35" stroke="#000" stroke-width="1.3"/>
<line x1="200.7" y1="282.5" x2="200.7" y2="290.8" stroke="#000" stroke-width="1.3"/>
<line x1="57.99200730765185" y1="115.75" x2="57.99200730765185" y2="118.55" stroke="#000" stroke-width="1.1"/>
<line x1="57.99200730765185" y1="285.2" x2="57.99200730765185" y2="288.0" stroke="#000" stroke-width="1.1"/>
<line x1="64.64695047805616" y1="115.75" x2="64.64695047805616" y2="118.55" stroke="#000" stroke-width="1.1"/>
<line x1="64.64695047805616" y1="285.2" x2="64.64695047805616" y2="288.0" stroke="#000" stroke-width="1.1"/>
<line x1="109.76400243588395" y1="115.75" x2="109.76400243588395" y2="118.55" stroke="#000" stroke-width="1.1"/>
<line x1="109.76400243588395" y1="285.2" x2="109.76400243588395" y2="288.0" stroke="#000" stroke-width="1.1"/>
<line x1="132.67347523902805" y1="115.75" x2="132.67347523902805" y2="118.55" stroke="#000" stroke-width="1.1"/>
<line x1="132.67347523902805" y1="285.2" x2="132.67347523902805" y2="288.0" stroke="#000" stroke-width="1.1"/>
<line x1="148.92800487176788" y1="115.75" x2="148.92800487176788" y2="118.55" stroke="#000" stroke-width="1.1"/>
<line x1="148.92800487176788" y1="285.2" x2="148.92800487176788" y2="288.0" stroke="#000" stroke-width="1.1"/>
<line x1="161.53599756411603" y1="115.75" x2="161.53599756411603" y2="118.55" stroke="#000" stroke-width="1.1"/>
<line x1="161.53599756411603" y1="285.2" x2="161.53599756411603" y2="288.0" stroke="#000" stroke-width="1.1"/>
<line x1="171.837477674912" y1="115.75" x2="171.837477674912" y2="118.55" stroke="#000" stroke-width="1.1"/>
<line x1="171.837477674912" y1="285.2" x2="171.837477674912" y2="288.0" stroke="#000" stroke-width="1.1"/>
<line x1="180.54725500585477" y1="115.75" x2="180.54725500585477" y2="118.55" stroke="#000" stroke-width="1.1"/>
<line x1="180.54725500585477" y1="285.2" x2="180.54725500585477" y2="288.0" stroke="#000" stroke-width="1.1"/>
<line x1="188.09200730765184" y1="115.75" x2="188.09200730765184" y2="118.55" stroke="#000" stroke-width="1.1"/>
<line x1="188.09200730765184" y1="285.2" x2="188.09200730765184" y2="288.0" stroke="#000" stroke-width="1.1"/>
<line x1="194.74695047805614" y1="115.75" x2="194.74695047805614" y2="118.55" stroke="#000" stroke-width="1.1"/>
<line x1="194.74695047805614" y1="285.2" x2="194.74695047805614" y2="288.0" stroke="#000" stroke-width="1.1"/>
<line x1="239.86400243588395" y1="115.75" x2="239.86400243588395" y2="118.55" stroke="#000" stroke-width="1.1"/>
<line x1="239.86400243588395" y1="285.2" x2="239.86400243588395" y2="288.0" stroke="#000" stroke-width="1.1"/>
<line x1="262.7734752390281" y1="115.75" x2="262.7734752390281" y2="118.55" stroke="#000" stroke-width="1.1"/>
<line x1="262.7734752390281" y1="285.2" x2="262.7734752390281" y2="288.0" stroke="#000" stroke-width="1.1"/>
<line x1="279.0280048717679" y1="115.75" x2="279.0280048717679" y2="118.55" stroke="#000" stroke-width="1.1"/>
<line x1="279.0280048717679" y1="285.2" x2="279.0280048717679" y2="288.0" stroke="#000" stroke-width="1.1"/>
<line x1="50.97" y1="286.7" x2="56.37" y2="286.7" stroke="#000" stroke-width="1.3"/>
<line x1="285.9" y1="286.7" x2="291.5" y2="286.7" stroke="#000" stroke-width="1.3"/>
<text x="47.37" y="291.7" font-size="11.9" fill="#000" text-anchor="end" textLength="25.0" lengthAdjust="spacingAndGlyphs">0.00</text>
<line x1="50.97" y1="258.425" x2="56.37" y2="258.425" stroke="#000" stroke-width="1.3"/>
<line x1="285.9" y1="258.425" x2="291.5" y2="258.425" stroke="#000" stroke-width="1.3"/>
<text x="47.37" y="263.425" font-size="11.9" fill="#000" text-anchor="end" textLength="25.0" lengthAdjust="spacingAndGlyphs">0.05</text>
<line x1="50.97" y1="230.14999999999998" x2="56.37" y2="230.14999999999998" stroke="#000" stroke-width="1.3"/>
<line x1="285.9" y1="230.14999999999998" x2="291.5" y2="230.14999999999998" stroke="#000" stroke-width="1.3"/>
<text x="47.37" y="235.14999999999998" font-size="11.9" fill="#000" text-anchor="end" textLength="25.0" lengthAdjust="spacingAndGlyphs">0.10</text>
<line x1="50.97" y1="201.875" x2="56.37" y2="201.875" stroke="#000" stroke-width="1.3"/>
<line x1="285.9" y1="201.875" x2="291.5" y2="201.875" stroke="#000" stroke-width="1.3"/>
<text x="47.37" y="206.875" font-size="11.9" fill="#000" text-anchor="end" textLength="25.0" lengthAdjust="spacingAndGlyphs">0.15</text>
<line x1="50.97" y1="173.6" x2="56.37" y2="173.6" stroke="#000" stroke-width="1.3"/>
<line x1="285.9" y1="173.6" x2="291.5" y2="173.6" stroke="#000" stroke-width="1.3"/>
<text x="47.37" y="178.6" font-size="11.9" fill="#000" text-anchor="end" textLength="25.0" lengthAdjust="spacingAndGlyphs">0.20</text>
<line x1="50.97" y1="145.325" x2="56.37" y2="145.325" stroke="#000" stroke-width="1.3"/>
<line x1="285.9" y1="145.325" x2="291.5" y2="145.325" stroke="#000" stroke-width="1.3"/>
<text x="47.37" y="150.325" font-size="11.9" fill="#000" text-anchor="end" textLength="25.0" lengthAdjust="spacingAndGlyphs">0.25</text>
<line x1="50.97" y1="117.04999999999998" x2="56.37" y2="117.04999999999998" stroke="#000" stroke-width="1.3"/>
<line x1="285.9" y1="117.04999999999998" x2="291.5" y2="117.04999999999998" stroke="#000" stroke-width="1.3"/>
<text x="47.37" y="122.04999999999998" font-size="11.9" fill="#000" text-anchor="end" textLength="25.0" lengthAdjust="spacingAndGlyphs">0.30</text>
<text x="57.99999999999999" y="301.7" font-size="11.9" fill="#000" textLength="13.3" lengthAdjust="spacingAndGlyphs">10</text>
<text class="sm" x="72.0" y="296.0" font-size="8.4" fill="#000" textLength="11.2" lengthAdjust="spacingAndGlyphs">−1</text>
<text x="191.1" y="301.7" font-size="11.9" fill="#000" textLength="13.3" lengthAdjust="spacingAndGlyphs">10</text>
<text class="sm" x="204.7" y="296.0" font-size="8.4" fill="#000">0</text>
<text x="171.235" y="316.5" font-size="11.9" fill="#000" text-anchor="middle" textLength="65.1" lengthAdjust="spacingAndGlyphs">Radius [au]</text>

<rect x="306.5" y="117.3" width="8.399999999999977" height="169.59999999999997" fill="url(#cbar)" stroke="#000" stroke-width="1.2"/>
<text x="318.2" y="121.89999999999999" font-size="11.9" fill="#000" textLength="21.4" lengthAdjust="spacingAndGlyphs">600</text>
<line x1="309.29999999999995" y1="159.7" x2="314.9" y2="159.7" stroke="#000" stroke-width="1.5"/>
<text x="318.2" y="164.29999999999998" font-size="11.9" fill="#000" textLength="21.4" lengthAdjust="spacingAndGlyphs">500</text>
<line x1="309.29999999999995" y1="202.09999999999997" x2="314.9" y2="202.09999999999997" stroke="#000" stroke-width="1.5"/>
<text x="318.2" y="206.69999999999996" font-size="11.9" fill="#000" textLength="21.4" lengthAdjust="spacingAndGlyphs">400</text>
<line x1="309.29999999999995" y1="244.49999999999997" x2="314.9" y2="244.49999999999997" stroke="#000" stroke-width="1.5"/>
<text x="318.2" y="249.09999999999997" font-size="11.9" fill="#000" textLength="21.4" lengthAdjust="spacingAndGlyphs">300</text>
<text x="318.2" y="291.5" font-size="11.9" fill="#000" textLength="21.4" lengthAdjust="spacingAndGlyphs">200</text>
<rect x="411.82000000000005" y="117.05" width="240.52999999999997" height="169.64999999999998" fill="none" stroke="#000" stroke-width="1.5"/>
<line x1="431.45000000000005" y1="113.05" x2="431.45000000000005" y2="121.35" stroke="#000" stroke-width="1.3"/>
<line x1="431.45000000000005" y1="282.5" x2="431.45000000000005" y2="290.8" stroke="#000" stroke-width="1.3"/>
<line x1="561.55" y1="113.05" x2="561.55" y2="121.35" stroke="#000" stroke-width="1.3"/>
<line x1="561.55" y1="282.5" x2="561.55" y2="290.8" stroke="#000" stroke-width="1.3"/>
<line x1="418.8420073076519" y1="115.75" x2="418.8420073076519" y2="118.55" stroke="#000" stroke-width="1.1"/>
<line x1="418.8420073076519" y1="285.2" x2="418.8420073076519" y2="288.0" stroke="#000" stroke-width="1.1"/>
<line x1="425.4969504780562" y1="115.75" x2="425.4969504780562" y2="118.55" stroke="#000" stroke-width="1.1"/>
<line x1="425.4969504780562" y1="285.2" x2="425.4969504780562" y2="288.0" stroke="#000" stroke-width="1.1"/>
<line x1="470.614002435884" y1="115.75" x2="470.614002435884" y2="118.55" stroke="#000" stroke-width="1.1"/>
<line x1="470.614002435884" y1="285.2" x2="470.614002435884" y2="288.0" stroke="#000" stroke-width="1.1"/>
<line x1="493.5234752390281" y1="115.75" x2="493.5234752390281" y2="118.55" stroke="#000" stroke-width="1.1"/>
<line x1="493.5234752390281" y1="285.2" x2="493.5234752390281" y2="288.0" stroke="#000" stroke-width="1.1"/>
<line x1="509.7780048717679" y1="115.75" x2="509.7780048717679" y2="118.55" stroke="#000" stroke-width="1.1"/>
<line x1="509.7780048717679" y1="285.2" x2="509.7780048717679" y2="288.0" stroke="#000" stroke-width="1.1"/>
<line x1="522.385997564116" y1="115.75" x2="522.385997564116" y2="118.55" stroke="#000" stroke-width="1.1"/>
<line x1="522.385997564116" y1="285.2" x2="522.385997564116" y2="288.0" stroke="#000" stroke-width="1.1"/>
<line x1="532.6874776749121" y1="115.75" x2="532.6874776749121" y2="118.55" stroke="#000" stroke-width="1.1"/>
<line x1="532.6874776749121" y1="285.2" x2="532.6874776749121" y2="288.0" stroke="#000" stroke-width="1.1"/>
<line x1="541.3972550058547" y1="115.75" x2="541.3972550058547" y2="118.55" stroke="#000" stroke-width="1.1"/>
<line x1="541.3972550058547" y1="285.2" x2="541.3972550058547" y2="288.0" stroke="#000" stroke-width="1.1"/>
<line x1="548.9420073076519" y1="115.75" x2="548.9420073076519" y2="118.55" stroke="#000" stroke-width="1.1"/>
<line x1="548.9420073076519" y1="285.2" x2="548.9420073076519" y2="288.0" stroke="#000" stroke-width="1.1"/>
<line x1="555.5969504780562" y1="115.75" x2="555.5969504780562" y2="118.55" stroke="#000" stroke-width="1.1"/>
<line x1="555.5969504780562" y1="285.2" x2="555.5969504780562" y2="288.0" stroke="#000" stroke-width="1.1"/>
<line x1="600.7140024358839" y1="115.75" x2="600.7140024358839" y2="118.55" stroke="#000" stroke-width="1.1"/>
<line x1="600.7140024358839" y1="285.2" x2="600.7140024358839" y2="288.0" stroke="#000" stroke-width="1.1"/>
<line x1="623.623475239028" y1="115.75" x2="623.623475239028" y2="118.55" stroke="#000" stroke-width="1.1"/>
<line x1="623.623475239028" y1="285.2" x2="623.623475239028" y2="288.0" stroke="#000" stroke-width="1.1"/>
<line x1="639.8780048717679" y1="115.75" x2="639.8780048717679" y2="118.55" stroke="#000" stroke-width="1.1"/>
<line x1="639.8780048717679" y1="285.2" x2="639.8780048717679" y2="288.0" stroke="#000" stroke-width="1.1"/>
<line x1="411.82000000000005" y1="286.7" x2="417.22" y2="286.7" stroke="#000" stroke-width="1.3"/>
<line x1="646.75" y1="286.7" x2="652.35" y2="286.7" stroke="#000" stroke-width="1.3"/>
<text x="408.22" y="291.7" font-size="11.9" fill="#000" text-anchor="end" textLength="25.0" lengthAdjust="spacingAndGlyphs">0.00</text>
<line x1="411.82000000000005" y1="258.425" x2="417.22" y2="258.425" stroke="#000" stroke-width="1.3"/>
<line x1="646.75" y1="258.425" x2="652.35" y2="258.425" stroke="#000" stroke-width="1.3"/>
<text x="408.22" y="263.425" font-size="11.9" fill="#000" text-anchor="end" textLength="25.0" lengthAdjust="spacingAndGlyphs">0.05</text>
<line x1="411.82000000000005" y1="230.14999999999998" x2="417.22" y2="230.14999999999998" stroke="#000" stroke-width="1.3"/>
<line x1="646.75" y1="230.14999999999998" x2="652.35" y2="230.14999999999998" stroke="#000" stroke-width="1.3"/>
<text x="408.22" y="235.14999999999998" font-size="11.9" fill="#000" text-anchor="end" textLength="25.0" lengthAdjust="spacingAndGlyphs">0.10</text>
<line x1="411.82000000000005" y1="201.875" x2="417.22" y2="201.875" stroke="#000" stroke-width="1.3"/>
<line x1="646.75" y1="201.875" x2="652.35" y2="201.875" stroke="#000" stroke-width="1.3"/>
<text x="408.22" y="206.875" font-size="11.9" fill="#000" text-anchor="end" textLength="25.0" lengthAdjust="spacingAndGlyphs">0.15</text>
<line x1="411.82000000000005" y1="173.6" x2="417.22" y2="173.6" stroke="#000" stroke-width="1.3"/>
<line x1="646.75" y1="173.6" x2="652.35" y2="173.6" stroke="#000" stroke-width="1.3"/>
<text x="408.22" y="178.6" font-size="11.9" fill="#000" text-anchor="end" textLength="25.0" lengthAdjust="spacingAndGlyphs">0.20</text>
<line x1="411.82000000000005" y1="145.325" x2="417.22" y2="145.325" stroke="#000" stroke-width="1.3"/>
<line x1="646.75" y1="145.325" x2="652.35" y2="145.325" stroke="#000" stroke-width="1.3"/>
<text x="408.22" y="150.325" font-size="11.9" fill="#000" text-anchor="end" textLength="25.0" lengthAdjust="spacingAndGlyphs">0.25</text>
<line x1="411.82000000000005" y1="117.04999999999998" x2="417.22" y2="117.04999999999998" stroke="#000" stroke-width="1.3"/>
<line x1="646.75" y1="117.04999999999998" x2="652.35" y2="117.04999999999998" stroke="#000" stroke-width="1.3"/>
<text x="408.22" y="122.04999999999998" font-size="11.9" fill="#000" text-anchor="end" textLength="25.0" lengthAdjust="spacingAndGlyphs">0.30</text>
<text x="418.85" y="301.7" font-size="11.9" fill="#000" textLength="13.3" lengthAdjust="spacingAndGlyphs">10</text>
<text class="sm" x="432.85" y="296.0" font-size="8.4" fill="#000" textLength="11.2" lengthAdjust="spacingAndGlyphs">−1</text>
<text x="551.9499999999999" y="301.7" font-size="11.9" fill="#000" textLength="13.3" lengthAdjust="spacingAndGlyphs">10</text>
<text class="sm" x="565.55" y="296.0" font-size="8.4" fill="#000">0</text>
<text x="532.085" y="316.5" font-size="11.9" fill="#000" text-anchor="middle" textLength="65.1" lengthAdjust="spacingAndGlyphs">Radius [au]</text>

<rect x="667.35" y="117.3" width="8.399999999999977" height="169.59999999999997" fill="url(#cbar)" stroke="#000" stroke-width="1.2"/>
<text x="679.05" y="121.89999999999999" font-size="11.9" fill="#000" textLength="21.4" lengthAdjust="spacingAndGlyphs">600</text>
<line x1="670.15" y1="159.7" x2="675.75" y2="159.7" stroke="#000" stroke-width="1.5"/>
<text x="679.05" y="164.29999999999998" font-size="11.9" fill="#000" textLength="21.4" lengthAdjust="spacingAndGlyphs">500</text>
<line x1="670.15" y1="202.09999999999997" x2="675.75" y2="202.09999999999997" stroke="#000" stroke-width="1.5"/>
<text x="679.05" y="206.69999999999996" font-size="11.9" fill="#000" textLength="21.4" lengthAdjust="spacingAndGlyphs">400</text>
<line x1="670.15" y1="244.49999999999997" x2="675.75" y2="244.49999999999997" stroke="#000" stroke-width="1.5"/>
<text x="679.05" y="249.09999999999997" font-size="11.9" fill="#000" textLength="21.4" lengthAdjust="spacingAndGlyphs">300</text>
<text x="679.05" y="291.5" font-size="11.9" fill="#000" textLength="21.4" lengthAdjust="spacingAndGlyphs">200</text>
<text transform="translate(11.2,33.3) rotate(-90)" font-size="11.9" text-anchor="middle" textLength="10.2" lengthAdjust="spacingAndGlyphs">Jy</text>
<text transform="translate(372.0,33.3) rotate(-90)" font-size="11.9" text-anchor="middle" textLength="10.2" lengthAdjust="spacingAndGlyphs"></text>
<text transform="translate(16.6,201.875) rotate(-90)" font-size="11.9" text-anchor="middle" textLength="14.5" lengthAdjust="spacingAndGlyphs">z/r</text>
<text transform="translate(377.45000000000005,201.875) rotate(-90)" font-size="11.9" text-anchor="middle" textLength="14.5" lengthAdjust="spacingAndGlyphs">z/r</text>
</svg>
</body></html>
